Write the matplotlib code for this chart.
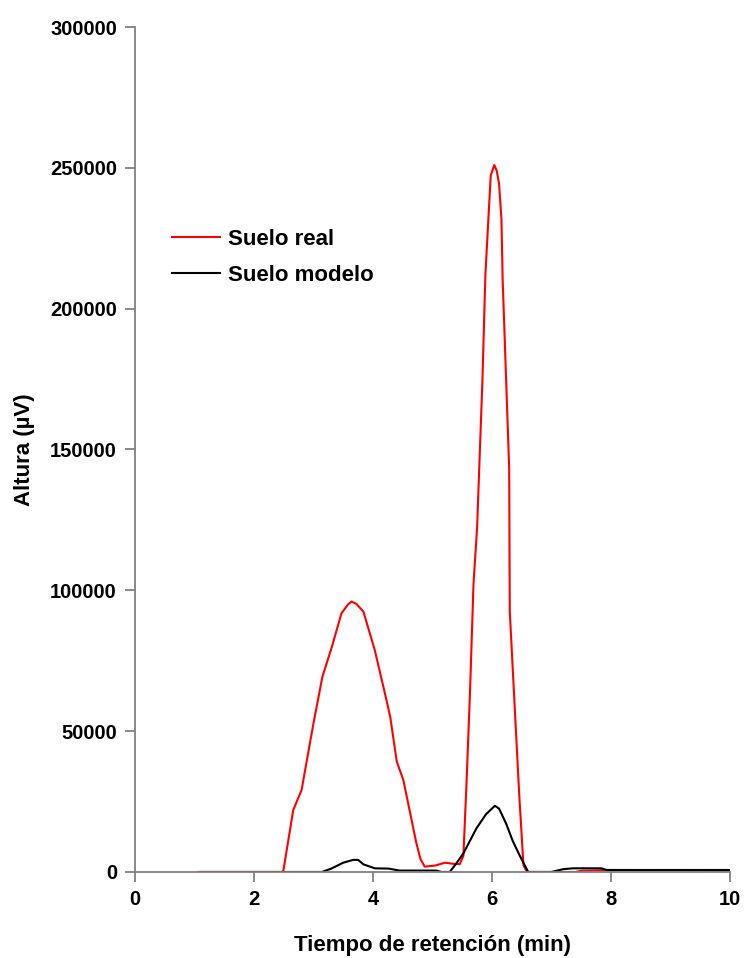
import matplotlib
matplotlib.use("Agg")
import matplotlib.pyplot as plt

plt.rcParams['font.family'] = ['Liberation Sans', 'DejaVu Sans']
plt.rcParams['font.weight'] = 'bold'

# Suelo real (red)
real_t = [1.05, 2.49, 2.66, 2.80, 3.00, 3.15, 3.31, 3.47, 3.58, 3.64, 3.72, 3.84, 4.03,
          4.20, 4.29, 4.40, 4.51, 4.73, 4.80, 4.87, 5.05, 5.21, 5.35, 5.46, 5.52, 5.57,
          5.63, 5.69, 5.75, 5.84, 5.89, 5.94, 5.98, 6.04, 6.08, 6.12, 6.16, 6.18, 6.29,
          6.30, 6.40, 6.46, 6.53, 6.59, 7.40, 7.50, 7.93, 10.0]
real_y = [0, 0, 22000, 29100, 52800, 69300, 80000, 91800, 95000, 96000, 95200, 92400, 78800,
          63500, 55100, 39200, 32700, 10200, 4500, 1900, 2300, 3300, 2900, 2800, 5700, 30200,
          63000, 102300, 122000, 174400, 212000, 231800, 247300, 251000, 249000, 244300, 231800, 210500, 143300,
          92500, 51500, 27000, 2400, 0, 0, 400, 700, 500]

# Suelo modelo (black)
model_t = [1.10, 3.14, 3.30, 3.50, 3.67, 3.75, 3.84, 4.03, 4.26, 4.45, 5.07, 5.15, 5.29,
           5.40, 5.52, 5.74, 5.90, 6.05, 6.12, 6.24, 6.35, 6.47, 6.61, 7.00, 7.20, 7.36,
           7.84, 7.93, 10.0]
model_y = [0, 0, 1200, 3300, 4300, 4300, 2700, 1300, 1200, 500, 500, 0, 0,
           3000, 6600, 15500, 20500, 23500, 22500, 17100, 11000, 5700, 0, 0, 1000, 1300,
           1300, 700, 700]

xticks = [0, 2, 4, 6, 8, 10]
yticks = [0, 50000, 100000, 150000, 200000, 250000, 300000]

fig = plt.figure(figsize=(7.44, 9.58), dpi=100)
ax = fig.add_axes([0.1815, 0.0898, 0.7995, 0.882])

ax.plot(real_t, real_y, color='#ff0000', lw=1.5, label='Suelo real')
ax.plot(model_t, model_y, color='#000000', lw=1.5, label='Suelo modelo')

ax.set_xlim(0, 10)
ax.set_ylim(0, 300000)
ax.set_xticks(xticks)
ax.set_yticks(yticks)
ax.set_xticklabels([str(v) for v in xticks])
ax.set_yticklabels([str(v) for v in yticks])

for s in ['top', 'right']:
    ax.spines[s].set_visible(False)
for s in ['left', 'bottom']:
    ax.spines[s].set_color('#808080')
    ax.spines[s].set_linewidth(1.3)
ax.tick_params(axis='both', direction='out', length=7, width=1.3, color='#808080',
               labelsize=14.5, pad=6)
for lab in ax.get_xticklabels() + ax.get_yticklabels():
    lab.set_fontweight('bold')

ax.set_xlabel('Tiempo de retención (min)', fontsize=16, fontweight='bold', labelpad=19)
ax.set_ylabel('Altura (µV)', fontsize=16, fontweight='bold', labelpad=11)

leg = ax.legend(loc='upper left', bbox_to_anchor=(0.062, 0.761), frameon=False,
                handlelength=2.15, handletextpad=0.36, labelspacing=0.68,
                borderaxespad=0, borderpad=0, prop={'weight': 'bold', 'size': 16})

fig.savefig('out.png', dpi=100)
